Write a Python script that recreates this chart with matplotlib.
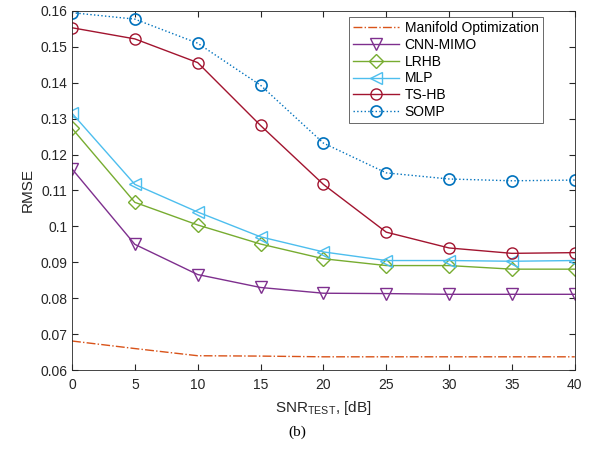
import matplotlib
matplotlib.use("Agg")
import matplotlib.pyplot as plt

snr = [0, 5, 10, 15, 20, 25, 30, 35, 40]
manifold = [0.0681, 0.0660, 0.0640, 0.0639, 0.0637, 0.0637, 0.0637, 0.0637, 0.0637]
cnn_mimo = [0.1160, 0.0950, 0.0866, 0.0830, 0.0814, 0.0813, 0.0811, 0.0811, 0.0811]
lrhb = [0.1273, 0.1067, 0.1004, 0.0951, 0.0910, 0.0891, 0.0891, 0.0881, 0.0881]
mlp = [0.1315, 0.1117, 0.1040, 0.0971, 0.0929, 0.0905, 0.0905, 0.0903, 0.0905]
ts_hb = [0.1553, 0.1522, 0.1456, 0.1281, 0.1117, 0.0984, 0.0940, 0.0925, 0.0927]
somp = [0.1595, 0.1577, 0.1510, 0.1393, 0.1232, 0.1149, 0.1132, 0.1127, 0.1129]

plt.rcParams['font.family'] = ['Liberation Sans', 'DejaVu Sans']
fig = plt.figure(figsize=(5.95, 4.53), dpi=100)
ax = fig.add_axes([0.121, 0.183, 0.845, 0.793])

ms = 8
ax.plot(snr, manifold, linestyle='-.', color='#D95319', lw=1.0, label='Manifold Optimization')
ax.plot(snr, cnn_mimo, '-', color='#7E2F8E', lw=1.0, marker='v', ms=ms, mfc='none', mew=1.0, label='CNN-MIMO')
ax.plot(snr, lrhb, '-', color='#77AC30', lw=1.0, marker='D', ms=ms-1, mfc='none', mew=1.0, label='LRHB')
ax.plot(snr, mlp, '-', color='#4DBEEE', lw=1.0, marker='<', ms=ms, mfc='none', mew=1.0, label='MLP')
ax.plot(snr, ts_hb, '-', color='#A2142F', lw=1.0, marker='o', ms=ms, mfc='none', mew=1.0, label='TS-HB')
ax.plot(snr, somp, ':', color='#0072BD', lw=1.0, marker='o', ms=ms, mfc='none', mew=1.2, label='SOMP')

ax.set_xlim(0, 40)
ax.set_ylim(0.06, 0.16)
ax.set_xticks(snr)
ax.set_yticks([0.06, 0.07, 0.08, 0.09, 0.1, 0.11, 0.12, 0.13, 0.14, 0.15, 0.16])
ax.set_yticklabels(['0.06', '0.07', '0.08', '0.09', '0.1', '0.11', '0.12', '0.13', '0.14', '0.15', '0.16'])
ax.tick_params(direction='in', top=True, right=True, labelsize=10, colors='#262626', length=4)
ax.tick_params(axis='x', pad=6)
for sp in ax.spines.values():
    sp.set_color('#262626')
    sp.set_linewidth(0.6)
ax.set_xlabel(r'SNR$_{\mathregular{TEST}}$, [dB]', fontsize=11, color='#262626', labelpad=5)
ax.set_ylabel('RMSE', fontsize=11, color='#262626')

leg = ax.legend(loc='upper right', bbox_to_anchor=(0.936, 0.983), borderaxespad=0.0,
                fontsize=10, frameon=True,
                fancybox=False, edgecolor='#262626', handlelength=3.3, borderpad=0.3,
                labelspacing=0.2, handletextpad=0.4)
leg.get_frame().set_linewidth(0.6)

fig.text(0.5, 0.046, '(b)', ha='center', va='center', fontsize=11, family='Liberation Serif')

fig.savefig('out.png', dpi=100)
